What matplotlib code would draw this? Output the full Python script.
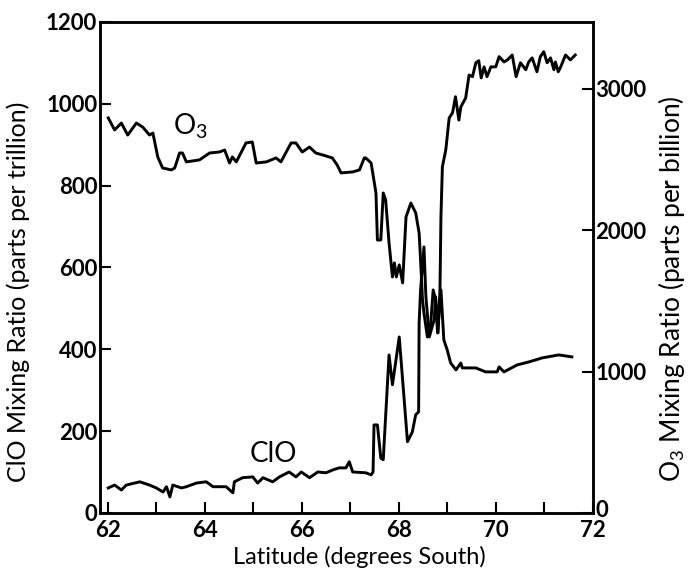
import matplotlib.pyplot as plt
import matplotlib.transforms as mtransforms

plt.rcParams['font.family'] = ['Lato', 'DejaVu Sans']

# ClO (parts per trillion) vs latitude
clo_lat = [62.01, 62.14, 62.28, 62.38, 62.66, 62.86, 63.00, 63.14, 63.21, 63.28, 63.34, 63.52,
           63.62, 63.83, 64.03, 64.17, 64.44, 64.58, 64.61, 64.78, 64.99, 65.09, 65.20, 65.40,
           65.54, 65.74, 65.88, 65.99, 66.16, 66.33, 66.50, 66.64, 66.77, 66.91, 66.98, 67.05,
           67.32, 67.43, 67.47, 67.49, 67.56, 67.63, 67.68, 67.80, 67.87, 68.01, 68.18, 68.28,
           68.35, 68.41, 68.42, 68.45, 68.52, 68.56, 68.63, 68.73, 68.76, 68.81, 68.85, 68.87,
           68.90, 68.97, 69.04, 69.11, 69.17, 69.24, 69.28, 69.38, 69.45, 69.52, 69.59, 69.65,
           69.70, 69.76, 69.82, 69.90, 70.00, 70.07, 70.17, 70.24, 70.34, 70.42, 70.51, 70.62,
           70.68, 70.75, 70.85, 70.92, 70.99, 71.06, 71.13, 71.20, 71.23, 71.29, 71.34, 71.44,
           71.54, 71.64]
clo = [61, 68, 56, 68, 76, 68, 61, 51, 64, 39, 68, 61,
       64, 73, 76, 64, 64, 49, 76, 86, 88, 73, 86, 76,
       88, 100, 88, 100, 86, 100, 98, 105, 110, 110, 125, 100,
       98, 93, 100, 215, 215, 134, 130, 386, 313, 430, 174, 198,
       240, 247, 464, 545, 650, 528, 430, 472, 528, 440, 545, 723,
       846, 887, 965, 978, 1017, 960, 992, 1014, 1070, 1066, 1100, 1105,
       1063, 1090, 1066, 1090, 1090, 1115, 1102, 1107, 1119, 1066, 1100, 1083,
       1102, 1112, 1078, 1115, 1127, 1100, 1112, 1083, 1102, 1078, 1090, 1119,
       1107, 1119]

# O3 (parts per billion) vs latitude
o3_lat = [62.01, 62.14, 62.28, 62.41, 62.59, 62.72, 62.86, 62.93, 63.03, 63.13, 63.31, 63.38,
          63.48, 63.54, 63.62, 63.89, 64.10, 64.30, 64.41, 64.51, 64.57, 64.65, 64.85, 64.98,
          65.06, 65.27, 65.47, 65.57, 65.78, 65.88, 66.01, 66.16, 66.29, 66.43, 66.63, 66.73,
          66.81, 67.05, 67.19, 67.29, 67.32, 67.43, 67.53, 67.56, 67.63, 67.68, 67.73, 67.80,
          67.87, 67.91, 67.95, 68.01, 68.08, 68.15, 68.25, 68.35, 68.42, 68.45, 68.49, 68.52,
          68.59, 68.66, 68.71, 68.76, 68.80, 68.87, 68.93, 69.00, 69.07, 69.18, 69.28, 69.31,
          69.59, 69.79, 70.03, 70.07, 70.17, 70.44, 70.68, 70.96, 71.30, 71.57]
o3 = [2795, 2710, 2759, 2674, 2759, 2730, 2674, 2688, 2519, 2441, 2427, 2441,
      2547, 2547, 2484, 2498, 2547, 2554, 2568, 2476, 2519, 2484, 2618, 2625,
      2476, 2484, 2512, 2484, 2618, 2618, 2554, 2589, 2547, 2533, 2512, 2462,
      2406, 2413, 2427, 2512, 2512, 2476, 2264, 1931, 1931, 2264, 2214, 1910,
      1670, 1769, 1670, 1755, 1627, 2094, 2193, 2123, 1981, 1790, 1507, 1415,
      1245, 1344, 1578, 1507, 1274, 1578, 1224, 1153, 1061, 1012, 1061, 1026,
      1026, 998, 998, 1033, 998, 1047, 1068, 1097, 1118, 1104]

fig = plt.figure(figsize=(6.9, 5.75), dpi=100)
ax = fig.add_axes([0.145, 0.108, 0.714, 0.854])
ax2 = ax.twinx()

ax.plot(clo_lat, clo, color='black', lw=2.1)
ax2.plot(o3_lat, o3, color='black', lw=2.1)

ax.set_xlim(61.84, 72)
ax.set_ylim(0, 1200)
ax2.set_ylim(0, 3475)

ax.set_xticks(range(62, 73))
ax.set_xticklabels([str(v) if v % 2 == 0 else '' for v in range(62, 73)])
ax.set_yticks(range(0, 1201, 200))
ax2.set_yticks([0, 1000, 2000, 3000])

for a in (ax, ax2):
    a.tick_params(direction='in', length=8, width=1.5, labelsize=16, pad=2)
    for s in a.spines.values():
        s.set_linewidth(1.8)
ax.tick_params(axis='x', pad=5)
for lab in ax.get_xticklabels() + ax.get_yticklabels() + ax2.get_yticklabels():
    lab.set_fontweight('bold')

# lift the right-hand "0" a little so it clears the "72"
zero_lab = ax2.get_yticklabels()[0]
zero_lab.set_transform(zero_lab.get_transform() +
                       mtransforms.ScaledTranslation(0, 4 / 100, fig.dpi_scale_trans))

ax.set_xlabel('Latitude (degrees South)', fontsize=17)
ax.xaxis.set_label_coords(0.527, -0.068)
ax.set_ylabel('ClO Mixing Ratio (parts per trillion)', fontsize=18)
ax.yaxis.set_label_coords(-0.142, 0.45)
ax2.set_ylabel(r'$\mathregular{O_3}$ Mixing Ratio (parts per billion)', fontsize=19,
               rotation=90)
ax2.yaxis.set_label_coords(1.128, 0.456)

ax.text(63.7, 945, r'$\mathregular{O_3}$', fontsize=20, ha='center', va='center')
ax.text(65.42, 144, 'ClO', fontsize=20, ha='center', va='center')

fig.savefig('out.png', dpi=100)
